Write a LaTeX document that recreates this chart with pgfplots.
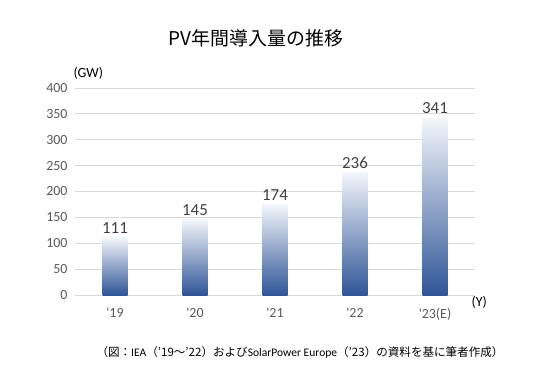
\documentclass[border=0pt]{standalone}
\usepackage{pgfplots}
\pgfplotsset{compat=1.18}
\usepackage{fontspec}
\setmainfont{Carlito}
\newfontfamily\jp{Noto Sans CJK JP}
\definecolor{bartop}{HTML}{F2F5FB}
\definecolor{barbot}{HTML}{2F5597}
\definecolor{txt}{HTML}{595959}
\definecolor{grd}{HTML}{D9D9D9}
\begin{document}
\begin{tikzpicture}[x=1bp,y=1bp]
\path[use as bounding box] (0,0) rectangle (550,381);
\begin{axis}[
  at={(75bp,86bp)}, anchor=south west,
  scale only axis, width=400bp, height=207bp,
  ymin=0, ymax=400, ytick={0,50,...,400},
  xmin=-0.5, xmax=4.5, xtick={0,1,2,3,4},
  xticklabels={\textquotesingle19,\textquotesingle20,\textquotesingle21,\textquotesingle22,\textquotesingle23(E)},
  axis line style={draw=none},
  major tick length=0pt,
  ymajorgrids, grid style={grd, line width=0.8bp},
  ticklabel style={font=\fontsize{14}{16}\selectfont, text=txt},
  /pgf/number format/assume math mode=true,
  xticklabel style={yshift=-10bp},
  yticklabel style={xshift=-4bp},
  ybar, bar width=25bp, bar shift=0pt,
  nodes near coords,
  every node near coord/.append style={font=\fontsize{17}{19}\selectfont, text=black!75, yshift=1bp},
  every axis plot/.append style={draw=none, top color=bartop, bottom color=barbot},
]
\addplot coordinates {(0,111)};
\addplot coordinates {(1,145)};
\addplot coordinates {(2,174)};
\addplot coordinates {(3,236)};
\addplot coordinates {(4,341)};
\end{axis}
\node[font=\jp\fontsize{19}{22}\selectfont, text=black] at (256,343) {PV年間導入量の推移};
\node[font=\fontsize{14}{16}\selectfont, text=black, anchor=west] at (70,308) {(GW)};
\node[font=\fontsize{14}{16}\selectfont, text=black, anchor=west] at (468,79) {(Y)};
\node[font=\jp\fontsize{11.6}{13}\selectfont, text=black] at (300,29) {（図：{\rmfamily IEA}（’19～’22）および{\rmfamily SolarPower Europe}（’23）の資料を基に筆者作成）};
\end{tikzpicture}
\end{document}
